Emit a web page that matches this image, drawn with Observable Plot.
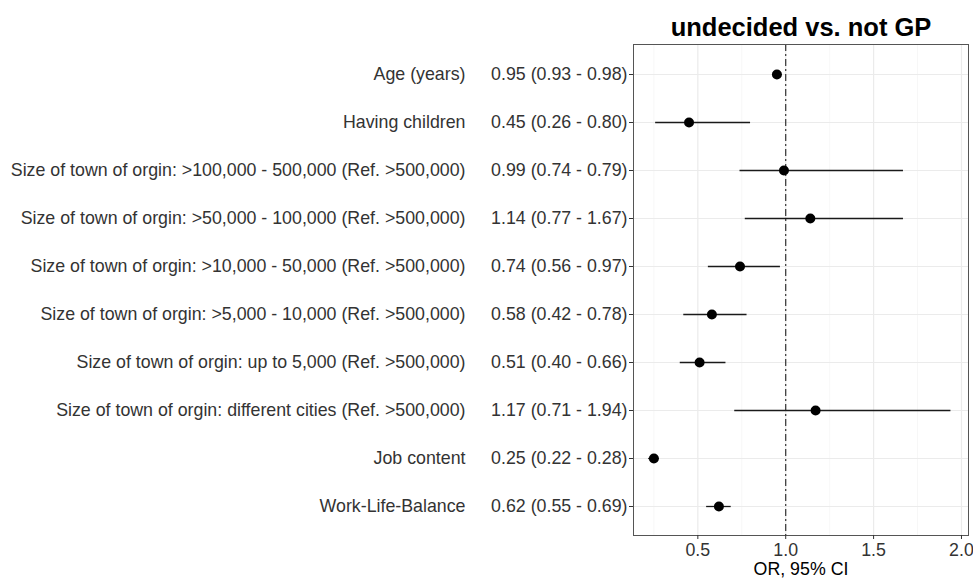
<!DOCTYPE html>
<html><head><meta charset="utf-8">
<script src="https://cdn.jsdelivr.net/npm/d3@7"></script>
<script src="https://cdn.jsdelivr.net/npm/@observablehq/plot@0.6"></script>
<style>body{margin:0;background:#fff}</style>
</head><body><div id="chart"></div>
<script>
const labels = [
  "Age (years)",
  "Having children",
  "Size of town of orgin: >100,000 - 500,000 (Ref. >500,000)",
  "Size of town of orgin: >50,000 - 100,000 (Ref. >500,000)",
  "Size of town of orgin: >10,000 - 50,000 (Ref. >500,000)",
  "Size of town of orgin: >5,000 - 10,000 (Ref. >500,000)",
  "Size of town of orgin: up to 5,000 (Ref. >500,000)",
  "Size of town of orgin: different cities (Ref. >500,000)",
  "Job content",
  "Work-Life-Balance"
];
const orText = [
  "0.95 (0.93 - 0.98)",
  "0.45 (0.26 - 0.80)",
  "0.99 (0.74 - 0.79)",
  "1.14 (0.77 - 1.67)",
  "0.74 (0.56 - 0.97)",
  "0.58 (0.42 - 0.78)",
  "0.51 (0.40 - 0.66)",
  "1.17 (0.71 - 1.94)",
  "0.25 (0.22 - 0.28)",
  "0.62 (0.55 - 0.69)"
];
const orValues = [0.95, 0.45, 0.99, 1.14, 0.74, 0.58, 0.51, 1.17, 0.25, 0.62];
const loValues = [0.93, 0.26, 0.74, 0.77, 0.56, 0.42, 0.40, 0.71, 0.22, 0.55];
const hiValues = [0.98, 0.80, 1.67, 1.67, 0.97, 0.78, 0.66, 1.94, 0.28, 0.69];
const xTicks = [0.5, 1.0, 1.5, 2.0];
const xMinor = [0.25, 0.75, 1.25, 1.75];
const title = "undecided vs. not GP";
const xTitle = "OR, 95% CI";

const data = labels.map((label, i) => ({label, text: orText[i], or: orValues[i], lo: loValues[i], hi: hiValues[i]}));
const orMap = new Map(data.map(d => [d.label, d.text]));
const FS = 17.8;

const chart = Plot.plot({
  width: 973, height: 578,
  marginLeft: 633, marginRight: 5, marginTop: 44, marginBottom: 43,
  style: {fontFamily: "'Liberation Sans', Arial, sans-serif", fontSize: FS + "px", color: "#333", background: "#fff"},
  x: {domain: [0.134, 2.04]},
  y: {type: "point", domain: labels, padding: 0.6},
  marks: [
    Plot.ruleX(xMinor, {stroke: "#f3f3f3", strokeWidth: 0.7}),
    Plot.ruleX(xTicks, {stroke: "#ebebeb", strokeWidth: 1.2}),
    Plot.ruleY(labels, {y: d => d, stroke: "#ebebeb", strokeWidth: 1.2}),
    Plot.ruleX([1], {stroke: "#333", strokeWidth: 1.2, strokeDasharray: "7,3,2,3"}),
    Plot.ruleY(data, {y: "label", x1: "lo", x2: "hi", stroke: "#1a1a1a", strokeWidth: 1.3}),
    Plot.dot(data, {x: "or", y: "label", r: 5, fill: "#000"}),
    Plot.frame({stroke: "#555"}),
    Plot.axisY({tickSize: 4, tickPadding: 2, tickFormat: d => orMap.get(d), fontSize: FS, label: null}),
    Plot.text(data, {y: "label", text: "label", frameAnchor: "left", dx: -168, textAnchor: "end", fontSize: FS, fill: "#333"}),
    Plot.axisX({ticks: xTicks, tickFormat: d3.format(".1f"), tickSize: 4, tickPadding: 4, fontSize: FS, label: null}),
    Plot.text([xTitle], {frameAnchor: "bottom", lineAnchor: "middle", dy: 34, fontSize: FS, fill: "#000"}),
    Plot.text([title], {frameAnchor: "top", lineAnchor: "middle", dy: -17, fontSize: 25.5, fontWeight: "bold", fill: "#000"})
  ]
});
document.getElementById("chart").appendChild(chart);
</script>
</body></html>
